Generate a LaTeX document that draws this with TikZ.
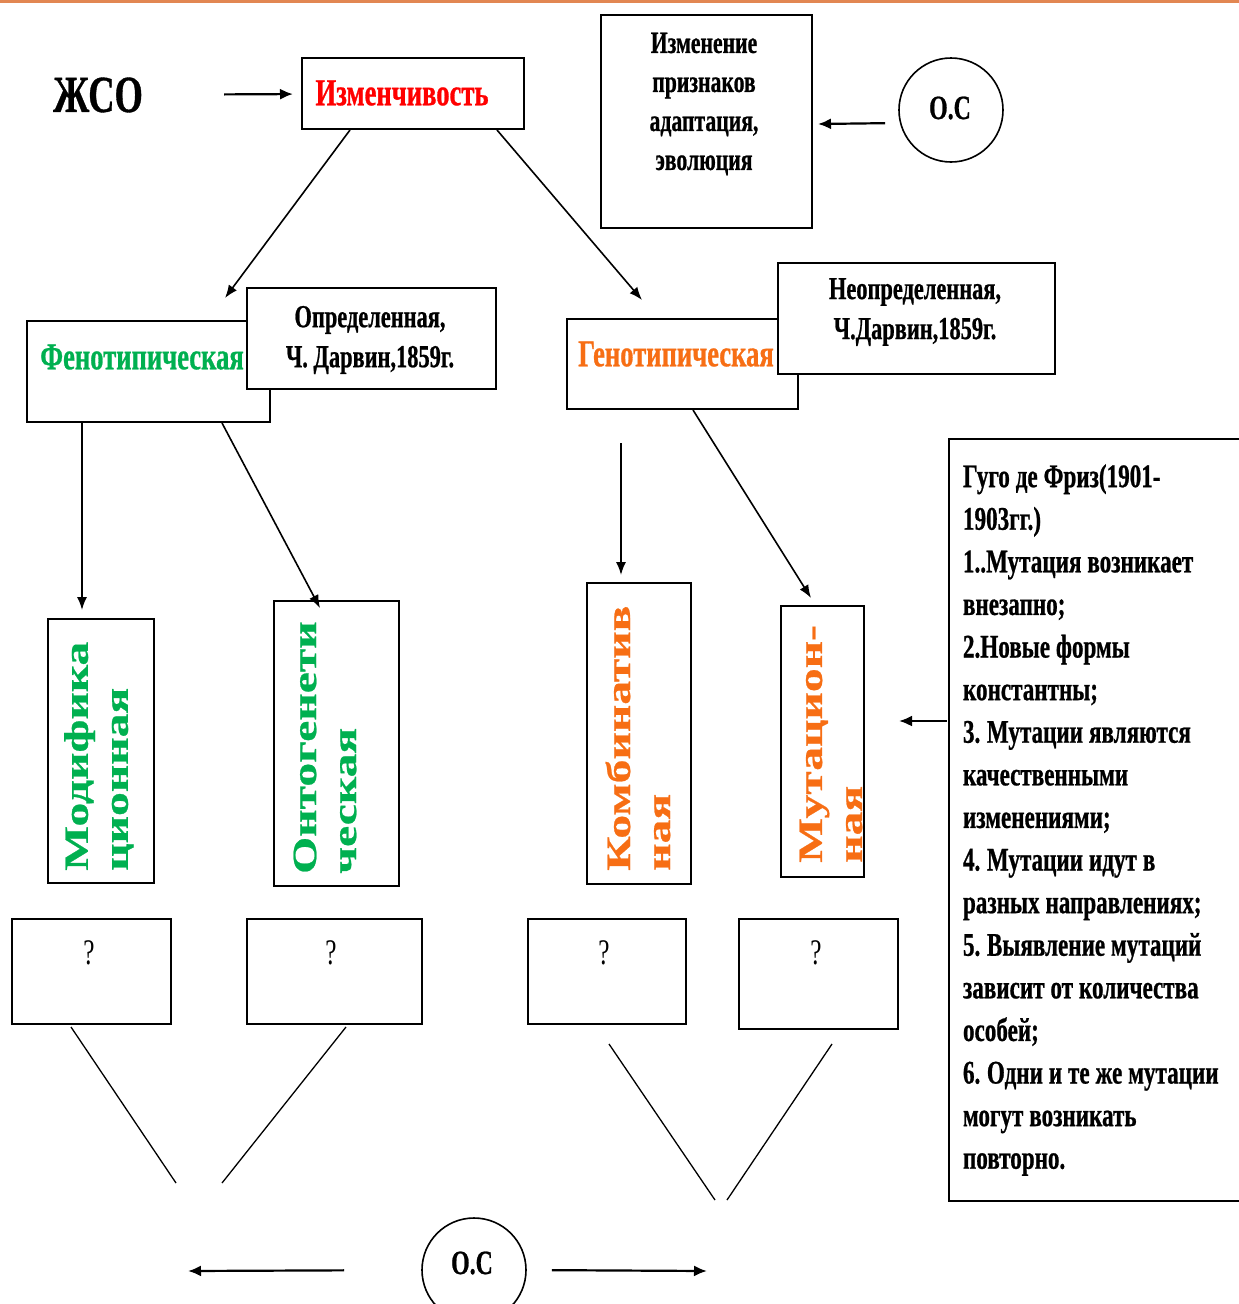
\documentclass[tikz,border=0pt]{standalone}
\usepackage{fontspec}
\setmainfont{Liberation Serif}
\newfontfamily\cnd[FakeStretch=0.7, BoldFeatures={FakeBold=0.7}]{Liberation Serif}
\newfontfamily\wde[FakeStretch=1.4, BoldFeatures={FakeBold=0.7}]{Liberation Serif}
\usetikzlibrary{arrows.meta,calc}
\newcommand\fsz[2]{\fontsize{#1}{#2}\selectfont}
\newcommand\narrowspaces{\spaceskip=0.18em plus 0.04em\relax\xspaceskip=0.2em\relax}
\definecolor{vred}{RGB}{255,0,0}
\definecolor{vgreen}{RGB}{0,176,80}
\definecolor{vorange}{RGB}{247,110,20}
\definecolor{toprule}{RGB}{226,135,82}

\begin{document}
\begin{tikzpicture}[x=1pt,y=-1pt,
  box/.style={draw=black, line width=2pt, fill=white, inner sep=0pt, anchor=north west},
  txt/.style={inner sep=0pt, align=center, font=\cnd\bfseries},
  vtxt/.style={inner sep=0pt, align=left, rotate=90, anchor=west, font=\wde\bfseries\fsz{34}{40}},
  qmark/.style={inner sep=0pt, font=\cnd\fsz{36}{40}},
  circ/.style={draw=black, line width=1.6pt, circle, minimum size=104pt, inner sep=0pt},
  arr/.style={line width=2.2pt, -{Latex[length=13pt,width=11pt]}},
  darr/.style={line width=1.6pt, -{Latex[length=13pt,width=10pt]}},
  ln/.style={line width=1.3pt}
]
\useasboundingbox (0,0) rectangle (1239,1304);
\fill[white] (0,0) rectangle (1239,1304);
\fill[toprule] (0,0) rectangle (1239,3);

% top row
\node[txt, font=\cnd\bfseries\fsz{52}{60}] (jso) at (98,95) {ЖСО};
\node[box, minimum width=222pt, minimum height=71pt] (izm) at (301,57) {};
\node[txt, text=vred, font=\cnd\bfseries\fsz{38}{44}] (izmt) at (402,93) {Изменчивость};
\node[box, minimum width=211pt, minimum height=213pt] (izb) at (600,14) {};
\node[txt, font=\cnd\bfseries\fsz{31}{39}] (izbt) at (704,104) {Изменение\\признаков\\адаптация,\\эволюция};
\node[circ] (os1) at (951,110) {};
\node[txt, font=\cnd\bfseries\fsz{34}{40}] (os1t) at (950,108) {О.С};

% second row
\node[box, minimum width=243pt, minimum height=101pt] (fen) at (26,320) {};
\node[txt, text=vgreen, font=\cnd\bfseries\fsz{38}{44}] (fent) at (142,357) {Фенотипическая};
\node[box, minimum width=249pt, minimum height=101pt] (opr) at (246,287) {};
\node[txt, font=\cnd\bfseries\fsz{32}{40}] (oprt) at (370,340) {\narrowspaces Определенная,\\Ч. Дарвин,1859г.};
\node[box, minimum width=231pt, minimum height=90pt] (gen) at (566,318) {};
\node[txt, text=vorange, font=\cnd\bfseries\fsz{38}{44}] (gent) at (676,354) {Генотипическая};
\node[box, minimum width=277pt, minimum height=111pt] (neo) at (777,262) {};
\node[txt, font=\cnd\bfseries\fsz{32}{40}] (neot) at (915,312) {Неопределенная,\\Ч.Дарвин,1859г.};

% kinds of variability
\node[box, minimum width=106pt, minimum height=264pt] (mod) at (47,618) {};
\node[vtxt, text=vgreen] (modt) at (99,871) {Модифика\\ционная};
\node[box, minimum width=125pt, minimum height=285pt] (ont) at (273,600) {};
\node[vtxt, text=vgreen] (ontt) at (325,874) {Онтогенети\\ческая};
\node[box, minimum width=104pt, minimum height=301pt] (kom) at (586,582) {};
\node[vtxt, text=vorange] (komt) at (638,871) {Комбинатив\\ная};
\node[box, minimum width=83pt, minimum height=271pt] (mut) at (780,605) {};
\node[vtxt, text=vorange] (mutt) at (831,863) {Мутацион-\\ная};

% de Vries box
\node[box, minimum height=762pt, text width=276pt, inner xsep=14pt, align=left,
      font=\cnd\bfseries\fsz{33}{42.6}] (gugo) at (948,438) {\narrowspaces Гуго де Фриз(1901-\\1903гг.)\\1..Мутация возникает\\внезапно;\\2.Новые формы\\константны;\\3. Мутации являются\\качественными\\изменениями;\\4. Мутации идут в\\разных направлениях;\\5. Выявление мутаций\\зависит от количества\\особей;\\6. Одни и те же мутации\\могут возникать\\повторно.};

% question boxes
\node[box, minimum width=159pt, minimum height=105pt] (q1) at (11,918) {};
\node[qmark] (q1t) at (89,953) {?};
\node[box, minimum width=175pt, minimum height=105pt] (q2) at (246,918) {};
\node[qmark] (q2t) at (331,953) {?};
\node[box, minimum width=158pt, minimum height=105pt] (q3) at (527,918) {};
\node[qmark] (q3t) at (604,953) {?};
\node[box, minimum width=159pt, minimum height=110pt] (q4) at (738,918) {};
\node[qmark] (q4t) at (816,953) {?};

% bottom circle
\node[circ] (os2) at (474,1270) {};
\node[txt, font=\cnd\bfseries\fsz{34}{40}] (os2t) at (472,1263) {О.С};

% free ends
\coordinate (fenin) at (225,298);
\coordinate (genin) at (642,300);
\coordinate (v1) at (176,1183);
\coordinate (v2) at (222,1183);
\coordinate (v3) at (715,1200);
\coordinate (v4) at (727,1200);
\coordinate (lft) at (188,1271);
\coordinate (rgt) at (707,1271);

% connectors
\draw[arr, shorten <=81pt, shorten >=8pt] (jso) -- (izm);
\draw[arr, shorten <=13pt] ([yshift=-13pt]os1.west) -- ([xshift=5pt,yshift=-2.5pt]izb.east);
\draw[darr] ($(izm.south west)+(49,0)$) -- (fenin);
\draw[darr] ($(izm.south east)+(-28,0)$) -- (genin);
\draw[darr] ($(fen.south west)+(56,0)$) -- ($(mod.north west)+(35,-8)$);
\draw[darr] ($(fen.south west)+(196,0)$) -- ($(ont.north west)+(47,8)$);
\draw[darr] ($(gen.south west)+(55,33)$) -- ($(kom.north west)+(35,-7)$);
\draw[darr] ($(gen.south west)+(127,0)$) -- ($(mut.north west)+(31,-7)$);
\draw[arr] ($(gugo.north west)+(-1,283)$) -- ($(mut.north east)+(34,116)$);
\draw[ln] ($(q1.south west)+(60,2)$) -- (v1);
\draw[ln] ($(q2.south west)+(100,2)$) -- (v2);
\draw[ln] ($(q3.south west)+(82,19)$) -- (v3);
\draw[ln] ($(q4.south west)+(94,14)$) -- (v4);
\draw[arr, shorten <=77pt] (os2.west) -- (lft);
\draw[arr, shorten <=25pt] (os2.east) -- (rgt);
\end{tikzpicture}
\end{document}
